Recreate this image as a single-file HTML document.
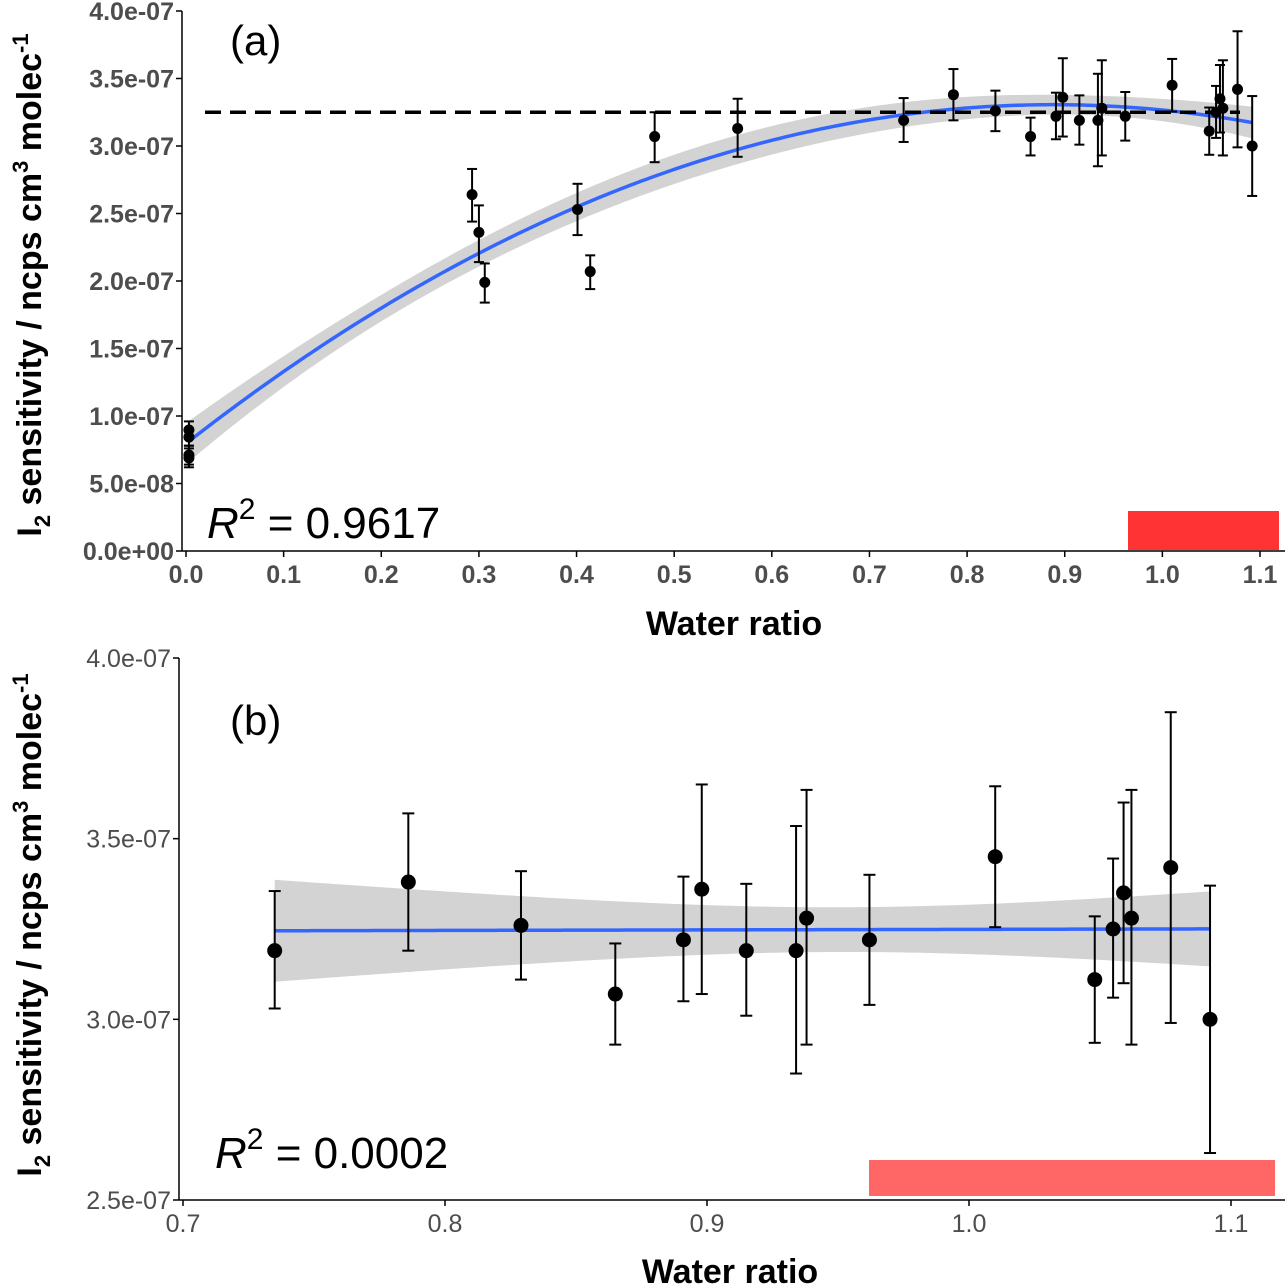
<!DOCTYPE html>
<html><head><meta charset="utf-8"><style>
body{margin:0;background:#fff}
svg{display:block;font-family:"Liberation Sans",Arial,sans-serif}
</style></head><body>
<svg id="chart" width="1285" height="1285" viewBox="0 0 1285 1285" xmlns="http://www.w3.org/2000/svg"></svg>
<script>
// Panel (a) low-water points
const lowX = [0.003,0.003,0.003,0.003,0.293,0.300,0.306,0.401,0.414,0.480,0.565];
const lowY = [0.896,0.844,0.711,0.689,2.64,2.36,1.99,2.53,2.07,3.07,3.13];
const lowLo = [0.83,0.78,0.64,0.62,2.44,2.14,1.84,2.34,1.94,2.88,2.92];
const lowHi = [0.96,0.91,0.78,0.76,2.83,2.56,2.13,2.72,2.19,3.25,3.35];
// High-water points (shown in both panels)
const hiX = [0.735,0.786,0.829,0.865,0.891,0.898,0.915,0.934,0.938,0.962,1.010,1.048,1.055,1.059,1.062,1.077,1.092];
const hiY = [3.19,3.38,3.26,3.07,3.22,3.36,3.19,3.19,3.28,3.22,3.45,3.11,3.25,3.35,3.28,3.42,3.00];
const hiLo = [3.03,3.19,3.11,2.93,3.05,3.07,3.01,2.85,2.93,3.04,3.255,2.935,3.06,3.10,2.93,2.99,2.63];
const hiHi = [3.355,3.57,3.41,3.21,3.395,3.65,3.375,3.535,3.635,3.40,3.645,3.285,3.445,3.60,3.635,3.85,3.37];
const ticksAX = [0,0.1,0.2,0.3,0.4,0.5,0.6,0.7,0.8,0.9,1.0,1.1];
const ticksAY = [0,0.5,1,1.5,2,2.5,3,3.5,4];
const labelsAY = ["0.0e+00","5.0e-08","1.0e-07","1.5e-07","2.0e-07","2.5e-07","3.0e-07","3.5e-07","4.0e-07"];
const ticksBX = [0.7,0.8,0.9,1.0,1.1];
const ticksBY = [2.5,3,3.5,4];
const labelsBY = ["2.5e-07","3.0e-07","3.5e-07","4.0e-07"];
const meanLine = 3.25;
const r2A = "0.9617", r2B = "0.0002";

const NS="http://www.w3.org/2000/svg";
const svg=document.getElementById('chart');
function mk(tag,attrs,parent){const e=document.createElementNS(NS,tag);for(const k in attrs)e.setAttribute(k,attrs[k]);(parent||svg).appendChild(e);return e;}

function polyfit(xs,ys,deg){
  const n=deg+1;const A=[];for(let i=0;i<n;i++){A.push(new Array(n).fill(0));}
  const b=new Array(n).fill(0);
  for(let k=0;k<xs.length;k++){for(let i=0;i<n;i++){b[i]+=Math.pow(xs[k],i)*ys[k];for(let j=0;j<n;j++)A[i][j]+=Math.pow(xs[k],i+j);}}
  const M=A.map((r,i)=>r.concat(Array.from({length:n},(_,j)=>i===j?1:0)));
  for(let i=0;i<n;i++){let p=i;for(let r=i+1;r<n;r++)if(Math.abs(M[r][i])>Math.abs(M[p][i]))p=r;[M[i],M[p]]=[M[p],M[i]];
    const d=M[i][i];for(let j=0;j<2*n;j++)M[i][j]/=d;
    for(let r=0;r<n;r++)if(r!==i){const f=M[r][i];for(let j=0;j<2*n;j++)M[r][j]-=f*M[i][j];}}
  const inv=M.map(r=>r.slice(n));
  const coef=inv.map(r=>r.reduce((s,v,j)=>s+v*b[j],0));
  const f=x=>coef.reduce((s,c,i)=>s+c*Math.pow(x,i),0);
  let sse=0;for(let k=0;k<xs.length;k++)sse+=Math.pow(ys[k]-f(xs[k]),2);
  const s2=sse/(xs.length-n);
  const se=x=>{const v=coef.map((_,i)=>Math.pow(x,i));let q=0;for(let i=0;i<n;i++)for(let j=0;j<n;j++)q+=v[i]*inv[i][j]*v[j];return Math.sqrt(s2*q);};
  return {f,se};
}

function panel(o){
  const sx=v=>o.x0+(v-o.xmin)/(o.xmax-o.xmin)*(o.x1-o.x0);
  const sy=v=>o.y0-(v-o.ymin)/(o.ymax-o.ymin)*(o.y0-o.y1);
  const g=mk('g',{});
  
  
  const fit=polyfit(o.fx,o.fy,o.deg);
  const xs=[];for(let i=0;i<=200;i++)xs.push(o.fxmin+(o.fxmax-o.fxmin)*i/200);
  const up=xs.map(x=>sx(x)+','+sy(fit.f(x)+o.tm*fit.se(x)));
  const dn=xs.slice().reverse().map(x=>sx(x)+','+sy(fit.f(x)-o.tm*fit.se(x)));
  const band=mk('polygon',{points:up.concat(dn).join(' '),fill:'#d3d3d3'},g);
  
  
  const line=mk('polyline',{points:xs.map(x=>sx(x)+','+sy(fit.f(x))).join(' '),fill:'none',stroke:'#3366ff','stroke-width':3.5},g);
  
  
  if(o.dash){const d=mk('line',{x1:205,x2:1240,y1:sy(meanLine),y2:sy(meanLine),stroke:'#000','stroke-width':3.5,'stroke-dasharray':'16 9'},g);
    }
  for(let i=0;i<o.px.length;i++){
    const x=sx(o.px[i]);
    const eb=mk('g',{stroke:'#000','stroke-width':2},g);
    
    
    mk('line',{x1:x,x2:x,y1:sy(o.plo[i]),y2:sy(o.phi[i])},eb);
    mk('line',{x1:x-o.cap,x2:x+o.cap,y1:sy(o.plo[i]),y2:sy(o.plo[i])},eb);
    mk('line',{x1:x-o.cap,x2:x+o.cap,y1:sy(o.phi[i]),y2:sy(o.phi[i])},eb);
    const c=mk('circle',{cx:x,cy:sy(o.py[i]),r:o.r,fill:'#000'},g);
    
    
  }
  const rb=mk('rect',{x:o.red[0],y:o.red[1],width:o.red[2],height:o.red[3],fill:o.red[4]},g);
  
  
  const ax=mk('g',{stroke:'#000','stroke-width':1.5},g);
  
  
  mk('line',{x1:o.x0-4,x2:1285,y1:o.y0,y2:o.y0},ax);
  mk('line',{x1:o.x0-4,x2:o.x0-4,y1:o.y1,y2:o.y0},ax);
  o.tx.forEach(v=>{mk('line',{x1:sx(v),x2:sx(v),y1:o.y0,y2:o.y0+6},ax);
    const t=mk('text',{x:sx(v),y:o.y0+32,'text-anchor':'middle','font-size':o.tfs,'font-weight':o.tfw,fill:'#4d4d4d'},g);t.textContent=v.toFixed(1);
    });
  o.ty.forEach((v,i)=>{mk('line',{x1:o.x0-10,x2:o.x0-4,y1:sy(v),y2:sy(v)},ax);
    const t=mk('text',{x:o.x0-12,y:sy(v)+9,'text-anchor':'end','font-size':o.tfs,'font-weight':o.tfw,fill:'#4d4d4d'},g);t.textContent=o.tyl[i];
    });
  const xt=mk('text',{x:o.xtx,y:o.xty,'text-anchor':'middle','font-size':34,'font-weight':'bold',fill:'#000'},g);
  xt.textContent='Water ratio';
  const yt=mk('text',{transform:`translate(41,${o.ytc}) rotate(-90)`,'text-anchor':'middle','font-size':34,'font-weight':'bold',fill:'#000'},g);
  yt.innerHTML='I<tspan font-size="22" dy="9">2</tspan><tspan dy="-9"> sensitivity / ncps cm</tspan><tspan font-size="22" dy="-13">3</tspan><tspan dy="13"> molec</tspan><tspan font-size="22" dy="-13">-1</tspan>';
  
  const pl=mk('text',{x:o.lab[0],y:o.lab[1],'font-size':42,fill:'#000'},g);pl.textContent=o.label;
  
  const r=mk('text',{x:o.r2p[0],y:o.r2p[1],'font-size':44,fill:'#000'},g);
  r.innerHTML='<tspan font-style="italic">R</tspan><tspan font-size="30" dy="-19">2</tspan><tspan dy="19"> = '+o.r2+'</tspan>';
  
}

const allX=lowX.concat(hiX), allY=lowY.concat(hiY);
panel({name:'panel-a',x0:186,x1:1260,xmin:0,xmax:1.1,y0:551,y1:11,ymin:0,ymax:4,
  px:allX,py:allY,plo:lowLo.concat(hiLo),phi:lowHi.concat(hiHi),fx:allX,fy:allY,deg:2,fxmin:0.003,fxmax:1.092,tm:1.6,
  cap:5,r:5.5,dash:true,red:[1128,511,151,39,'#ff3333'],tx:ticksAX,ty:ticksAY,tyl:labelsAY,tfs:25,tfw:'bold',
  xtx:734,xty:635,ytc:285,lab:[230,55],label:'(a)',r2p:[207,538],r2:r2A});
panel({name:'panel-b',x0:183,x1:1231,xmin:0.7,xmax:1.1,y0:1200,y1:658,ymin:2.5,ymax:4,
  px:hiX,py:hiY,plo:hiLo,phi:hiHi,fx:hiX,fy:hiY,deg:1,fxmin:0.735,fxmax:1.092,tm:2.03,
  cap:6,r:7.5,dash:false,red:[869,1160,406,36,'#ff6666'],tx:ticksBX,ty:ticksBY,tyl:labelsBY,tfs:25,tfw:'normal',
  xtx:730,xty:1283,ytc:925,lab:[230,735],label:'(b)',r2p:[215,1168],r2:r2B});
</script>
</body></html>
